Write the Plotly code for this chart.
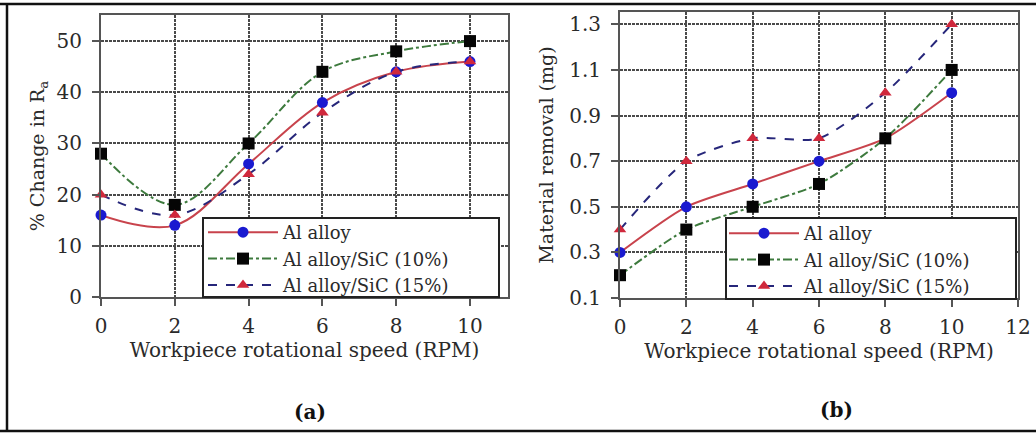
import plotly.graph_objects as go

# ---- data ----
rpm = [0, 2, 4, 6, 8, 10]
series_names = ["Al alloy", "Al alloy/SiC (10%)", "Al alloy/SiC (15%)"]
ra_al = [16, 14, 26, 38, 44, 46]
ra_sic10 = [28, 18, 30, 44, 48, 50]
ra_sic15 = [20, 16, 24, 36, 44, 46]
mr_al = [0.3, 0.5, 0.6, 0.7, 0.8, 1.0]
mr_sic10 = [0.2, 0.4, 0.5, 0.6, 0.8, 1.1]
mr_sic15 = [0.4, 0.7, 0.8, 0.8, 1.0, 1.3]
ra_ticks = [0, 10, 20, 30, 40, 50]
mr_ticks = [0.1, 0.3, 0.5, 0.7, 0.9, 1.1, 1.3]
x1_ticks = [0, 2, 4, 6, 8, 10]
x2_ticks = [0, 2, 4, 6, 8, 10, 12]

W, H = 1036, 434
FONT = "DejaVu Serif"
TXT = "#2a2a2a"

styles = [
    dict(line=dict(color="#c8434c", width=2, dash="solid"),
         marker=dict(symbol="circle", color="#1a1ad0", size=11)),
    dict(line=dict(color="#3d7a3d", width=2, dash="dashdot"),
         marker=dict(symbol="square", color="#050505", size=12)),
    dict(line=dict(color="#26267a", width=2, dash="dash"),
         marker=dict(symbol="triangle-up", color="#d0283c", size=11)),
]

fig = go.Figure()
for name, ys, st in zip(series_names, [ra_al, ra_sic10, ra_sic15], styles):
    fig.add_trace(go.Scatter(x=rpm, y=ys, name=name, mode="lines+markers",
                             line=dict(shape="spline", smoothing=1.0, **st["line"]),
                             marker=st["marker"], xaxis="x", yaxis="y",
                             legend="legend", cliponaxis=False))
for name, ys, st in zip(series_names, [mr_al, mr_sic10, mr_sic15], styles):
    fig.add_trace(go.Scatter(x=rpm, y=ys, name=name, mode="lines+markers",
                             line=dict(shape="spline", smoothing=0.7, **st["line"]),
                             marker=st["marker"], xaxis="x2", yaxis="y2",
                             legend="legend2", cliponaxis=False))

axis_common = dict(
    showline=True, linecolor="#555555", linewidth=2, mirror=True,
    showgrid=True, gridcolor="#4a4a4a", gridwidth=1.5, griddash="3px,1px",
    ticks="outside", ticklen=7, tickcolor="#555555", tickwidth=1.5,
    tickfont=dict(family=FONT, size=20, color=TXT),
    zeroline=False, automargin=False,
)

legend_common = dict(
    xanchor="left", yanchor="top", bgcolor="rgba(0,0,0,0)", borderwidth=0,
    font=dict(family=FONT, size=18, color=TXT),
    tracegroupgap=0, itemwidth=70,
)

fig.update_layout(
    template="none",
    width=W, height=H, margin=dict(l=0, r=0, t=0, b=0, pad=0), autosize=False,
    paper_bgcolor="white", plot_bgcolor="white",
    font=dict(family=FONT, size=20, color=TXT),
    xaxis=dict(domain=[101 / W, 508 / W], range=[0, 11.03], tickvals=x1_ticks,
               anchor="y", ticklabelstandoff=3,
               title=dict(text="Workpiece rotational speed (RPM)", standoff=0,
                          font=dict(family=FONT, size=20, color=TXT)), **axis_common),
    yaxis=dict(domain=[1 - 297 / H, 1 - 15 / H], range=[0, 55.1], tickvals=ra_ticks,
               anchor="x", ticklabelstandoff=6,
               title=dict(text="% Change in R<sub>a</sub>", standoff=7,
                          font=dict(family=FONT, size=19, color=TXT)), **axis_common),
    xaxis2=dict(domain=[620 / W, 1018 / W], range=[0, 12], tickvals=x2_ticks,
                anchor="y2", ticklabelstandoff=3,
                title=dict(text="Workpiece rotational speed (RPM)", standoff=0,
                           font=dict(family=FONT, size=20, color=TXT)), **axis_common),
    yaxis2=dict(domain=[1 - 298 / H, 1 - 12 / H], range=[0.1, 1.354], tickvals=mr_ticks,
                tickformat=".1f", anchor="x2", ticklabelstandoff=6,
                title=dict(text="Material removal (mg)", standoff=11,
                           font=dict(family=FONT, size=19, color=TXT)), **axis_common),
    legend=dict(x=203 / W, y=1 - 214 / H, **legend_common),
    legend2=dict(x=724 / W, y=1 - 215 / H, **legend_common),
    showlegend=True,
)

# legend boxes
box = dict(type="rect", xref="paper", yref="paper", layer="above",
           fillcolor="white", line=dict(color="#222222", width=2))
fig.add_shape(x0=203 / W, x1=499 / W, y0=1 - 297 / H, y1=1 - 218 / H, **box)
fig.add_shape(x0=726 / W, x1=1016 / W, y0=1 - 299 / H, y1=1 - 218 / H, **box)

# panel labels
fig.add_annotation(text="<b>(a)</b>", x=310 / W, y=1 - 412 / H, xref="paper", yref="paper",
                   xanchor="center", yanchor="middle", showarrow=False,
                   font=dict(family=FONT, size=20, color="#111111"))
fig.add_annotation(text="<b>(b)</b>", x=836 / W, y=1 - 410 / H, xref="paper", yref="paper",
                   xanchor="center", yanchor="middle", showarrow=False,
                   font=dict(family=FONT, size=20, color="#111111"))

# outer frame lines
frame = dict(type="line", xref="paper", yref="paper", line=dict(color="#111111", width=2.5))
fig.add_shape(x0=0, x1=1, y0=1 - 4 / H, y1=1 - 4 / H, **frame)
fig.add_shape(x0=0, x1=1, y0=1 - 431 / H, y1=1 - 431 / H, **frame)
fig.add_shape(x0=7 / W, x1=7 / W, y0=1 - 431 / H, y1=1 - 4 / H, **frame)

fig.write_html("out.html")
